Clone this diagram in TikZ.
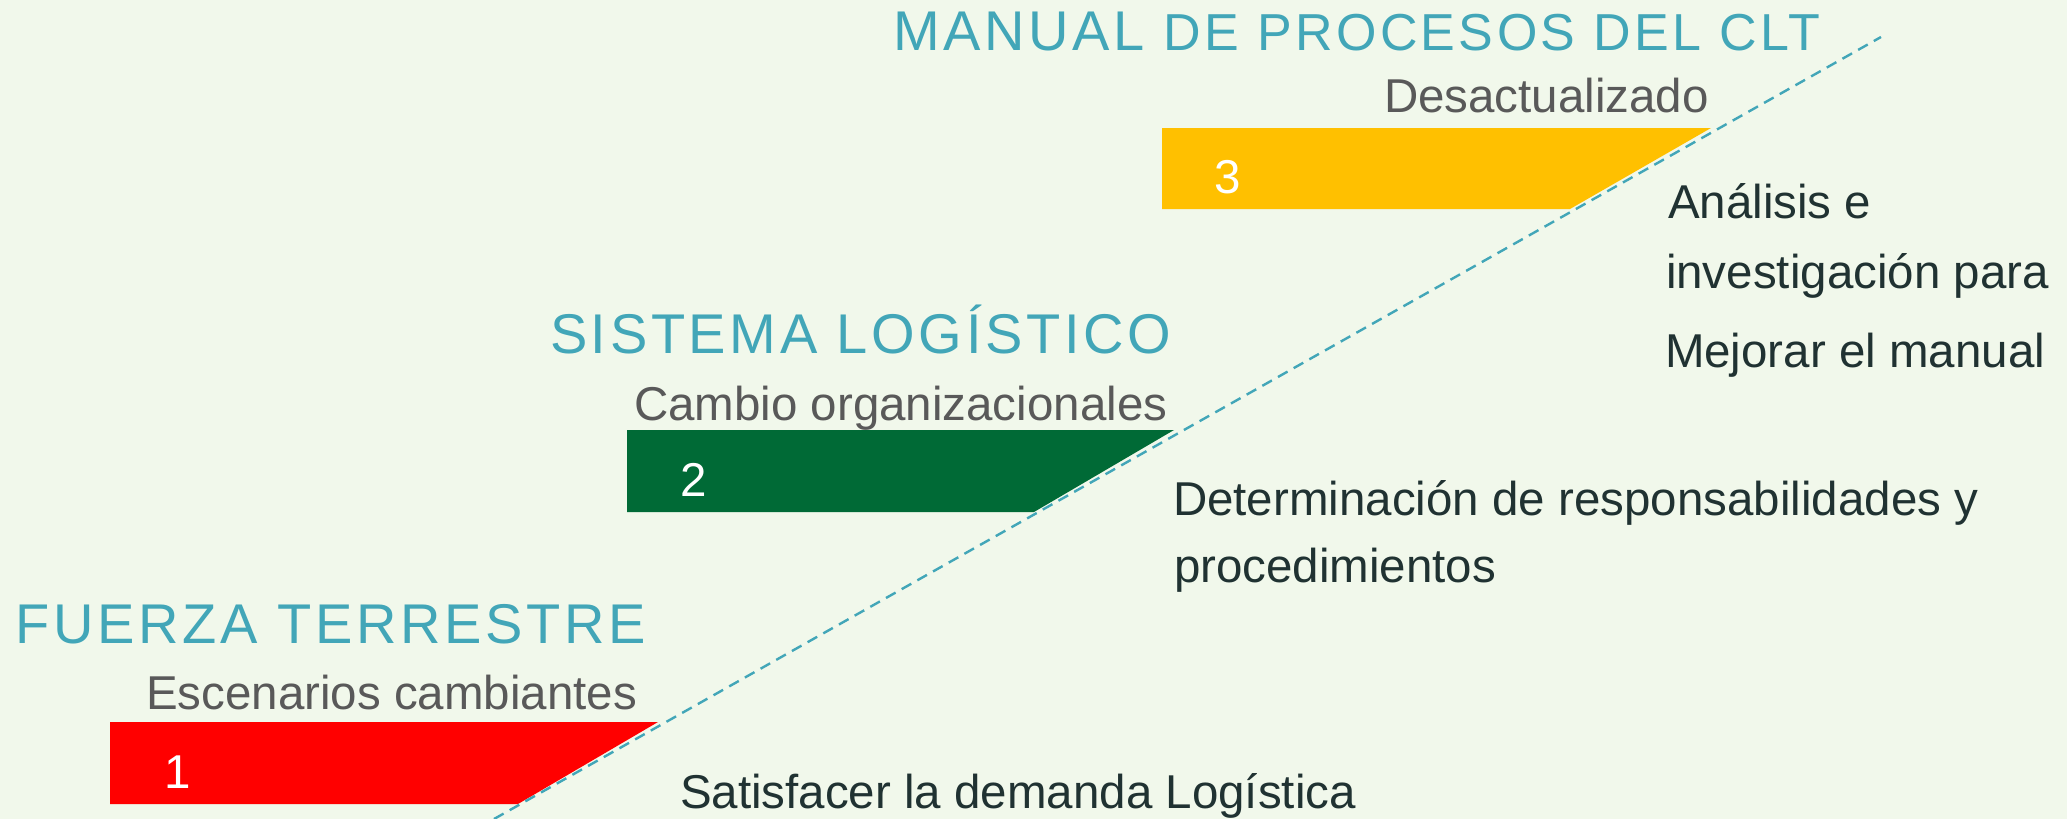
\documentclass[tikz,border=0pt]{standalone}
\usepackage{fontspec}
\setmainfont{Liberation Sans}
\newfontfamily\spacedfont[LetterSpace=6.5]{Liberation Sans}
\definecolor{bgc}{RGB}{241,248,235}
\definecolor{tealc}{RGB}{66,166,184}
\definecolor{greyc}{RGB}{89,89,89}
\definecolor{darkc}{RGB}{32,50,50}
\definecolor{redc}{RGB}{255,0,0}
\definecolor{greenc}{RGB}{0,106,54}
\definecolor{yellowc}{RGB}{255,192,0}
\tikzset{
  txt/.style={inner sep=0pt, outer sep=0pt, anchor=base west},
  titletxt/.style={txt, text=tealc, font=\spacedfont\fontsize{56pt}{60pt}\selectfont},
  subtxt/.style={txt, text=greyc, font=\fontsize{47.5pt}{57pt}\selectfont},
  bodytxt/.style={txt, text=darkc, font=\fontsize{47.5pt}{57pt}\selectfont},
  numtxt/.style={txt, text=white, font=\fontsize{47.5pt}{57pt}\selectfont},
  guide/.style={draw=tealc, line width=2.4pt, dash pattern=on 11pt off 7pt}
}
\begin{document}
\begin{tikzpicture}[x=1pt,y=-1pt]
\fill[bgc] (0,0) rectangle (2067,819);
\useasboundingbox (0,0) rectangle (2067,819);
% bars
\fill[redc] (110,722) -- (658,722) -- (518,804) -- (110,804) -- cycle;
\fill[greenc] (627,430) -- (1174,430) -- (1034,512) -- (627,512) -- cycle;
\fill[yellowc] (1162,128) -- (1711,128) -- (1570,209) -- (1162,209) -- cycle;
% dashed guide line
\coordinate (gA) at (494,819);
\coordinate (gB) at (1881,37);
\draw[guide] (gA) -- (gB);
% numbers
\node[numtxt] (n1) at (164,788) {1};
\node[numtxt] (n2) at (680,496) {2};
\node[numtxt] (n3) at (1214,193) {3};
% titles
\node[titletxt] (t1) at (16,643) {FUERZA TERRESTRE};
\node[titletxt] (t2) at (550,353) {SISTEMA LOGÍSTICO};
\node[titletxt] (t3) at (893,50) {MANUAL {\fontsize{52pt}{60pt}\selectfont DE PROCESOS DEL CLT}};
% subtitles
\node[subtxt] (s1) at (146,709) {Escenarios cambiantes};
\node[subtxt] (s2) at (634,420) {Cambio organizacionales};
\node[subtxt] (s3) at (1384,112) {Desactualizado};
% right texts
\node[bodytxt] (r1) at (680,808) {Satisfacer la demanda Logística};
\node[bodytxt] (r2a) at (1173,515) {Determinación de responsabilidades y};
\node[bodytxt] (r2b) at (1174,582) {procedimientos};
\node[bodytxt] (r3a) at (1668,218) {Análisis e};
\node[bodytxt] (r3b) at (1666,288) {investigación para};
\node[bodytxt] (r3c) at (1665,367) {Mejorar el manual};
\end{tikzpicture}
\end{document}
